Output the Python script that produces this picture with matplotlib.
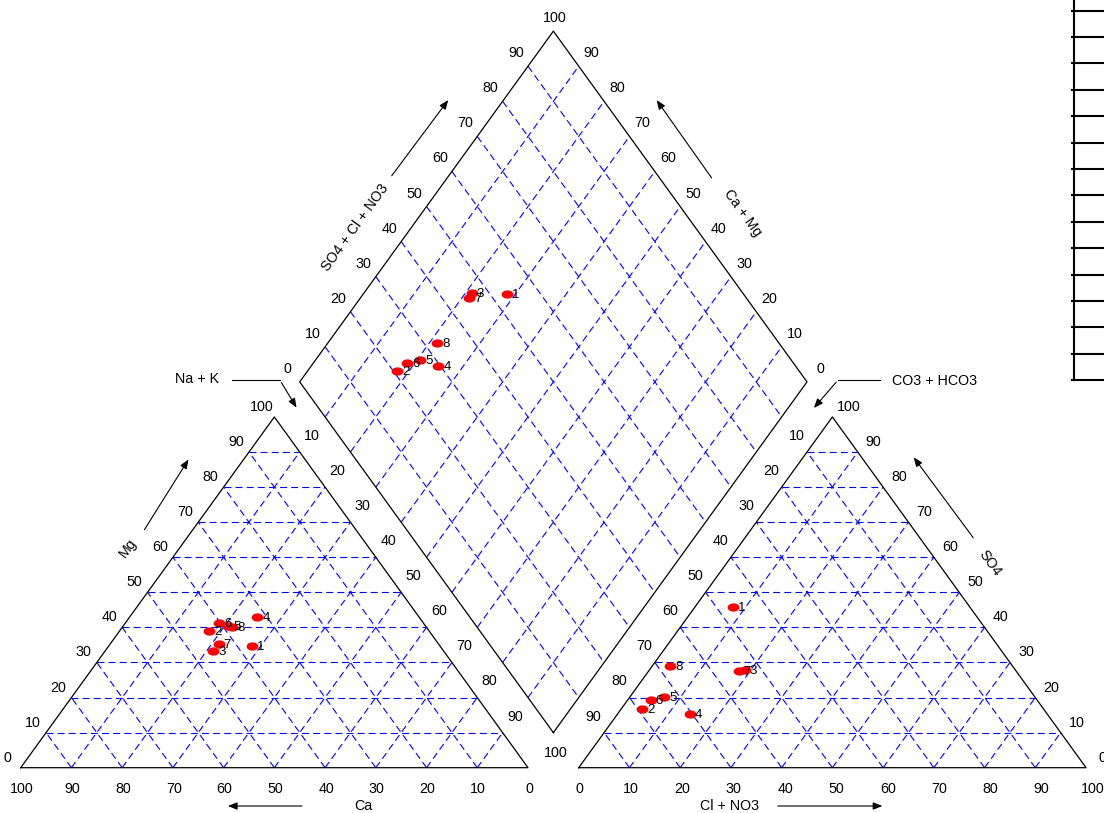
import numpy as np
import matplotlib
matplotlib.use("Agg")
import matplotlib.pyplot as plt
from matplotlib.path import Path
from matplotlib.transforms import Affine2D
from matplotlib.lines import Line2D

plt.rcParams['font.family'] = ['Liberation Sans', 'DejaVu Sans']
plt.rcParams['lines.scale_dashes'] = False

# ---- sample composition (percent of meq/L) ----
samples = ['1', '2', '3', '4', '5', '6', '7', '8']
ca = [37.0, 43.3, 45.4, 31.8, 39.0, 40.2, 43.3, 38.2]
mg = [34.7, 39.1, 33.4, 43.1, 40.3, 41.3, 35.3, 40.2]
na_k = [28.3, 17.6, 21.2, 25.1, 20.7, 18.5, 21.4, 21.6]
hco3 = [46.6, 79.2, 53.4, 70.4, 73.1, 76.1, 54.7, 67.4]
so4 = [45.9, 16.6, 27.8, 15.4, 20.1, 19.4, 27.5, 29.1]
cl_no3 = [7.5, 4.2, 18.8, 14.2, 6.8, 4.5, 17.8, 3.5]

tick_values = [0, 10, 20, 30, 40, 50, 60, 70, 80, 90, 100]

# ---- geometry ----
h = np.sqrt(3) / 2
gap = 0.1
off = 1 + gap                      # x shift of the anion triangle
d_bot = np.array([1 + gap / 2, gap * h])
d_left = d_bot + np.array([-0.5, h])
d_right = d_bot + np.array([0.5, h])
d_top = d_bot + np.array([0.0, 2 * h])
up_r = np.array([0.5, h])          # direction along triangle left edge
up_l = np.array([-0.5, h])         # direction along triangle right edge

W, H, DPI = 1104, 813, 100
sx, sy = 507.3, 405.0              # pixels per data unit
x0, y0 = 20.7, 767.7               # pixel location of the origin

fig = plt.figure(figsize=(W / DPI, H / DPI), dpi=DPI)
ax = fig.add_axes([0, 0, 1, 1])
ax.set_xlim(-x0 / sx, (W - x0) / sx)
ax.set_ylim(-(H - y0) / sy, y0 / sy)
ax.axis('off')

grid_kw = dict(color='#0000ff', lw=0.8, ls=(0, (5.0, 3.0)), zorder=1)
edge_kw = dict(color='black', lw=0.9, zorder=2)
fs_tick = 10.3
fs_pt = 9.5


def seg(p, q, **kw):
    ax.plot([p[0], q[0]], [p[1], q[1]], **kw)


# ---- triangles ----
for dx in (0.0, off):
    a, b, c = np.array([dx, 0]), np.array([dx + 1, 0]), np.array([dx + 0.5, h])
    for v in tick_values[1:-1]:
        f = v / 100
        seg(a + f * up_r, b + f * up_l, **grid_kw)
        seg(a + [f, 0], a + f * up_r, **grid_kw)
        seg(a + [f, 0], b + (1 - f) * up_l, **grid_kw)
    ax.plot([a[0], b[0], c[0], a[0]], [a[1], b[1], c[1], a[1]], **edge_kw)

# ---- diamond ----
for v in tick_values[1:-1]:
    f = v / 100
    p = d_left + f * np.array([0.5, -h])
    seg(p, p + up_r, **grid_kw)
    p = d_left + f * up_r
    seg(p, p + np.array([0.5, -h]), **grid_kw)
dx_ = [d_bot[0], d_left[0], d_top[0], d_right[0], d_bot[0]]
dy_ = [d_bot[1], d_left[1], d_top[1], d_right[1], d_bot[1]]
ax.plot(dx_, dy_, **edge_kw)


def lab(text, p, dxp, dyp, size=fs_tick, **kw):
    ax.annotate(text, xy=p, xytext=(dxp, dyp), textcoords='offset pixels',
                ha='center', va='center', fontsize=size, **kw)


# ---- tick labels ----
for v in tick_values:
    f = v / 100
    lab(str(100 - v), (f, 0), 1, -21)                    # Ca
    lab(str(v), f * up_r, -13, 10)                        # Mg
    lab(str(v), (off + f, 0), 1 + 0.06 * v, -21)          # Cl + NO3
    lab(str(v), np.array([off + 1, 0]) + f * up_l, 16, 10)  # SO4
for v in tick_values[:-1]:
    f = v / 100
    lab(str(v), d_left + f * up_r, -12, 13)               # SO4 + Cl + NO3
    lab(str(v), d_right + f * up_l, 13, 13)               # Ca + Mg
for v in tick_values[1:-1]:
    f = v / 100
    lab(str(v), d_left + f * np.array([0.5, -h]), -13, -19)   # Na + K
    lab(str(v), d_right + f * np.array([-0.5, -h]), 15, -19)  # CO3 + HCO3
lab('100', d_top, 1, 13)
lab('100', d_bot, 2, -20)

# ---- axis titles with arrows ----
arrow_kw = dict(arrowstyle='-|>,head_length=0.55,head_width=0.22',
                color='black', lw=0.8, mutation_scale=10)


def arrow(tail, head):
    ax.annotate('', xy=head, xytext=tail, arrowprops=arrow_kw)


rot = np.degrees(np.arctan2(h * sy, 0.5 * sx))

ax.text(0.675, -0.0946, 'Ca', ha='center', va='center', fontsize=fs_tick)
arrow((0.560, -0.0946), (0.403, -0.0946))
ax.text(1.398, -0.0946, 'Cl + NO3', ha='center', va='center', fontsize=fs_tick)
arrow((1.487, -0.0946), (1.704, -0.0946))

ax.text(0.2115, 0.542, 'Mg', rotation=rot, ha='center', va='center',
        rotation_mode='anchor', fontsize=fs_tick)
arrow((0.241, 0.582), (0.3337, 0.767))
ax.text(1.911, 0.506, 'SO4', rotation=-rot, ha='center', va='center',
        rotation_mode='anchor', fontsize=fs_tick)
arrow((1.881, 0.5622), (1.757, 0.772))

ax.text(0.659, 1.333, 'SO4 + Cl + NO3', rotation=rot, ha='center',
        va='center', rotation_mode='anchor', fontsize=fs_tick)
arrow((0.728, 1.456), (0.846, 1.654))
ax.text(1.424, 1.370, 'Ca + Mg', rotation=-rot, ha='center', va='center',
        rotation_mode='anchor', fontsize=fs_tick)
arrow((1.365, 1.451), (1.2503, 1.654))

ax.text(0.347, 0.959, 'Na + K', ha='center', va='center', fontsize=fs_tick)
ax.plot([0.4165, 0.511], [0.957, 0.957], color='black', lw=0.8)
arrow((0.511, 0.957), (0.5466, 0.883))
ax.text(1.802, 0.955, 'CO3 + HCO3', ha='center', va='center', fontsize=fs_tick)
ax.plot([1.694, 1.611], [0.957, 0.957], color='black', lw=0.8)
arrow((1.611, 0.957), (1.560, 0.883))

# ---- samples ----
ca_a, mg_a, na_a = (np.asarray(v) / 100 for v in (ca, mg, na_k))
hc_a, so_a, cl_a = (np.asarray(v) / 100 for v in (hco3, so4, cl_no3))

cat_x = na_a + mg_a / 2
cat_y = mg_a * h
an_x = off + cl_a + so_a / 2
an_y = so_a * h
sc = so_a + cl_a
dm_x = d_bot[0] - 0.5 * (1 - na_a) + 0.5 * sc
dm_y = d_bot[1] + h * ((1 - na_a) + sc)

ell = Path.unit_circle().transformed(Affine2D().scale(1.0, 0.66))
for xs, ys in ((cat_x, cat_y), (an_x, an_y), (dm_x, dm_y)):
    ax.plot(xs, ys, ls='none', marker=ell, ms=7.5, mfc='red', mec='red',
            zorder=4)
    for s, xv, yv in zip(samples, xs, ys):
        ax.annotate(s, xy=(xv, yv), xytext=(5, -1), textcoords='offset pixels',
                    ha='left', va='center', fontsize=fs_pt, zorder=5)

# ---- ruled box at upper right ----
row_top, row_step, n_rows = 10.7, 26.4, 15
box_x = 1073.5
box_bottom = row_top + row_step * (n_rows - 1)
fig.add_artist(Line2D([box_x / W, box_x / W], [1, 1 - box_bottom / H],
                      transform=fig.transFigure, color='black', lw=1.5))
for k in range(n_rows):
    yy = 1 - (row_top + row_step * k) / H
    fig.add_artist(Line2D([(box_x - 2) / W, 1], [yy, yy],
                          transform=fig.transFigure, color='black', lw=1.5))

fig.savefig('out.png', dpi=DPI)
